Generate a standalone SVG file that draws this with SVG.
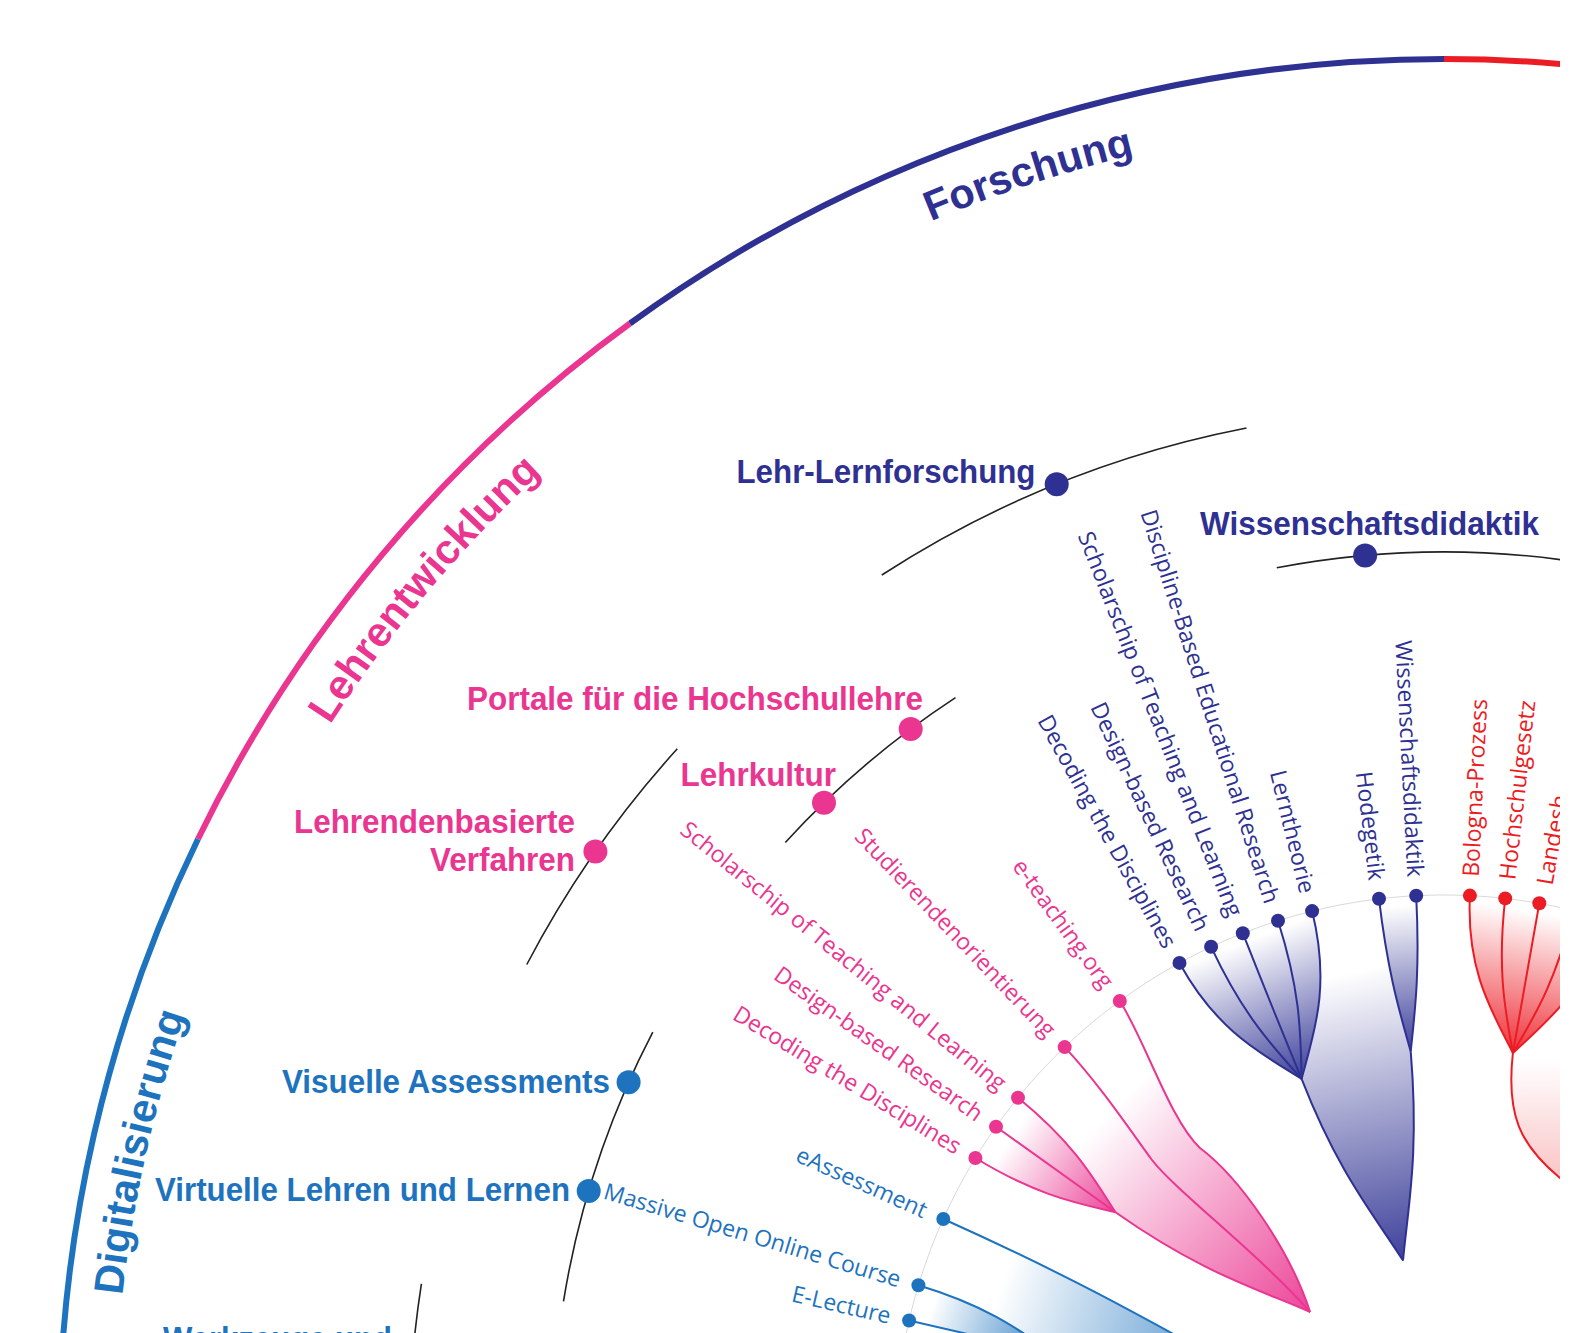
<svg xmlns="http://www.w3.org/2000/svg" width="1595" height="1333" viewBox="0 0 1595 1333">
<style>
.node{font-family:"Liberation Sans",Arial,sans-serif;font-weight:bold;font-size:34px}
.leaf{font-family:"Open Sans","Noto Sans",sans-serif;font-size:23px}
.cat{font-family:"Liberation Sans",Arial,sans-serif;font-weight:bold;font-size:41.5px}
.arc{fill:none;stroke:#222;stroke-width:1.6}
.ring{fill:none;stroke-width:6}
.ln{fill:none;stroke-width:2}
.db{fill:#2e3192}.pk{fill:#ea3690}.lb{fill:#1e73be}.rd{fill:#ec1c24}
.sdb{stroke:#2e3192}.spk{stroke:#ea3690}.slb{stroke:#1e73be}.srd{stroke:#ec1c24}
</style>
<defs>
<clipPath id="clip"><rect x="0" y="0" width="1560" height="1333"/></clipPath>
<path id="catArc" d="M118,1444 A1326,1326 0 0 1 1444,118" fill="none"/>
<path id="catArcD" d="M114,1444 A1330,1330 0 0 1 1444,114" fill="none"/>
<linearGradient id="gA" gradientUnits="userSpaceOnUse" x1="1247.8" y1="940.9" x2="1301.6" y2="1078.8"><stop offset="0" stop-color="#2e3192" stop-opacity="0"/><stop offset="1" stop-color="#2e3192" stop-opacity="0.92"/></linearGradient>
<linearGradient id="gB" gradientUnits="userSpaceOnUse" x1="1398.4" y1="905.9" x2="1410.7" y2="1051.4"><stop offset="0" stop-color="#2e3192" stop-opacity="0"/><stop offset="1" stop-color="#2e3192" stop-opacity="0.92"/></linearGradient>
<linearGradient id="gAB" gradientUnits="userSpaceOnUse" x1="1339.3" y1="975.6" x2="1403" y2="1260.5"><stop offset="0" stop-color="#2e3192" stop-opacity="0"/><stop offset="1" stop-color="#2e3192" stop-opacity="0.92"/></linearGradient>
<linearGradient id="gC" gradientUnits="userSpaceOnUse" x1="1010.9" y1="1138.5" x2="1115.5" y2="1212.3"><stop offset="0" stop-color="#ea3690" stop-opacity="0"/><stop offset="1" stop-color="#ea3690" stop-opacity="0.92"/></linearGradient>
<linearGradient id="gP2" gradientUnits="userSpaceOnUse" x1="1109.4" y1="1114" x2="1310.1" y2="1312"><stop offset="0" stop-color="#ea3690" stop-opacity="0"/><stop offset="1" stop-color="#ea3690" stop-opacity="0.92"/></linearGradient>
<linearGradient id="gL1" gradientUnits="userSpaceOnUse" x1="931.8" y1="1307.7" x2="1054.2" y2="1354"><stop offset="0" stop-color="#1e73be" stop-opacity="0"/><stop offset="1" stop-color="#1e73be" stop-opacity="0.9"/></linearGradient>
<linearGradient id="gL2" gradientUnits="userSpaceOnUse" x1="998.5" y1="1294.1" x2="1265.8" y2="1384"><stop offset="0" stop-color="#1e73be" stop-opacity="0"/><stop offset="1" stop-color="#1e73be" stop-opacity="0.9"/></linearGradient>
<linearGradient id="gR1" gradientUnits="userSpaceOnUse" x1="1537.8" y1="912.2" x2="1512.9" y2="1053"><stop offset="0" stop-color="#ec1c24" stop-opacity="0"/><stop offset="1" stop-color="#ec1c24" stop-opacity="0.9"/></linearGradient>
<linearGradient id="gR2" gradientUnits="userSpaceOnUse" x1="0" y1="1060" x2="0" y2="1220"><stop offset="0" stop-color="#ec1c24" stop-opacity="0"/><stop offset="1" stop-color="#ec1c24" stop-opacity="0.35"/></linearGradient>
</defs>
<rect x="0" y="0" width="1595" height="1333" fill="#fff"/>
<g clip-path="url(#clip)">
<g id="ring">
<path class="ring" stroke="#1e73be" d="M59,1444 A1385,1385 0 0 1 198.0,839.0"/>
<path class="ring" stroke="#ea3690" d="M198.0,839.0 A1385,1385 0 0 1 629.9,323.5"/>
<path class="ring" stroke="#2e3192" d="M629.9,323.5 A1385,1385 0 0 1 1444,59"/>
<path class="ring" stroke="#ec1c24" d="M1444,59 A1385,1385 0 0 1 1684.4,80.1"/>
</g>
<g id="categories">
<text class="cat lb"><textPath href="#catArcD" startOffset="293" text-anchor="middle">Digitalisierung</textPath></text>
<text class="cat pk"><textPath href="#catArc" startOffset="925" text-anchor="middle">Lehrentwicklung</textPath></text>
<text class="cat db"><textPath href="#catArc" startOffset="1663" text-anchor="middle">Forschung</textPath></text>
</g>
<g id="connectors">
<path fill="none" stroke="#d9d9d9" stroke-width="1" d="M895,1444 A549,549 0 0 1 1631.8,928.1"/>
<path class="arc" d="M409.6,1407.9 A1035,1035 0 0 1 421.4,1283.9"/>
<path class="arc" d="M526.8,964.5 A1035,1035 0 0 1 677.3,748.8"/>
<path class="arc" d="M881.8,575.0 A1035,1035 0 0 1 1246.5,428.0"/>
<path class="arc" d="M563.5,1301.4 A892,892 0 0 1 652.8,1032.2"/>
<path class="arc" d="M785.3,842.5 A892,892 0 0 1 955.5,697.6"/>
<path class="arc" d="M1276.8,567.8 A892,892 0 0 1 1598.9,565.6"/>
<path fill="url(#gA)" d="M1179.5,962.9 C1217.3,1031.7 1261.5,1053.6 1301.6,1078.8 C1313.7,1033.2 1331.0,987.3 1312.1,911.1 A549,549 0 0 0 1179.5,962.9 Z"/>
<path fill="url(#gB)" d="M1379.0,898.8 C1388.2,975.8 1400.1,1013.5 1410.7,1051.4 C1414.8,1012.2 1420.1,973.1 1416.2,895.7 A549,549 0 0 0 1379.0,898.8 Z"/>
<path fill="url(#gAB)" d="M1312.1,911.1 C1331.0,987.3 1313.7,1033.2 1301.6,1078.8 C1338.6,1173.8 1374.3,1215.4 1403.0,1260.5 C1407.8,1207.7 1419.4,1154.0 1410.7,1051.4 C1400.1,1013.5 1388.2,975.8 1379.0,898.8 A549,549 0 0 0 1312.1,911.1 Z"/>
<path fill="url(#gC)" d="M975.4,1158.0 C1038.2,1196.3 1077.3,1203.1 1115.5,1212.3 C1094.2,1179.1 1075.0,1144.1 1018.0,1097.7 A549,549 0 0 0 975.4,1158.0 Z"/>
<path fill="url(#gP2)" d="M1018.0,1097.7 C1075.0,1144.1 1094.2,1179.1 1115.5,1212.3 C1203.0,1274.0 1258.7,1289.1 1310.1,1312.0 C1290,1250 1240,1178 1200,1148 C1170,1120 1145,1040 1119.8,1001.0 A549,549 0 0 0 1018.0,1097.7 Z"/>
<path fill="url(#gL1)" d="M909.1,1320.5 C981.6,1337.2 1017.9,1345.6 1054.2,1354.0 C1021.4,1331.6 989.8,1306.9 918.4,1285.3 A549,549 0 0 0 909.1,1320.5 Z"/>
<path fill="url(#gL2)" d="M918.4,1285.3 C989.8,1306.9 1021.4,1331.6 1054.2,1354.0 C1157.5,1377.9 1212.1,1378.4 1265.8,1384.0 C1184.9,1342.5 1107.9,1292.9 943.3,1219.0 A549,549 0 0 0 918.4,1285.3 Z"/>
<path fill="url(#gR1)" d="M1469.9,895.6 C1466.3,971.5 1492.1,1011.7 1512.9,1053.0 C1546.7,1021.3 1584.7,992.4 1607.3,919.8 A549,549 0 0 0 1469.9,895.6 Z"/>
<path fill="url(#gR2)" d="M1512.9,1053.0 C1506,1115 1520,1145 1560,1178 S1610,1225 1625,1245 L1625,1053 Z"/>
<g class="ln sdb">
<path d="M1179.5,962.9 C1217.3,1031.7 1261.5,1053.6 1301.6,1078.8"/>
<path d="M1211.1,946.8 C1244.4,1017.9 1274.2,1047.9 1301.6,1078.8"/>
<path d="M1242.8,933.2 C1271.6,1006.2 1286.7,1042.7 1301.6,1078.8"/>
<path d="M1278.0,920.7 C1301.7,995.5 1300.5,1037.6 1301.6,1078.8"/>
<path d="M1312.1,911.1 C1331.0,987.3 1313.7,1033.2 1301.6,1078.8"/>
<path d="M1379.0,898.8 C1388.2,975.8 1400.1,1013.5 1410.7,1051.4"/>
<path d="M1416.2,895.7 C1420.1,973.1 1414.8,1012.2 1410.7,1051.4"/>
<path d="M1301.6,1078.8 C1338.6,1173.8 1374.3,1215.4 1403.0,1260.5"/>
<path d="M1410.7,1051.4 C1419.4,1154.0 1407.8,1207.7 1403.0,1260.5"/>
</g>
<g class="ln spk">
<path d="M975.4,1158.0 C1038.2,1196.3 1077.3,1203.1 1115.5,1212.3"/>
<path d="M996.0,1126.7 C1055.9,1169.2 1085.7,1190.8 1115.5,1212.3"/>
<path d="M1018.0,1097.7 C1075.0,1144.1 1094.2,1179.1 1115.5,1212.3"/>
<path d="M1115.5,1212.3 C1203.0,1274.0 1258.7,1289.1 1310.1,1312.0"/>
<path d="M1064.7,1047.1 C1100,1085 1130,1130 1152,1160 C1175,1190 1260,1255 1310.1,1312.0"/>
<path d="M1119.8,1001.0 C1145,1040 1170,1120 1200,1148 C1240,1178 1290,1250 1310.1,1312.0"/>
</g>
<g class="ln slb">
<path d="M943.3,1219.0 C1107.9,1292.9 1184.9,1342.5 1265.8,1384.0"/>
<path d="M918.4,1285.3 C989.8,1306.9 1021.4,1331.6 1054.2,1354.0"/>
<path d="M909.1,1320.5 C981.6,1337.2 1017.9,1345.6 1054.2,1354.0"/>
<path d="M1054.2,1354.0 C1157.5,1377.9 1212.1,1378.4 1265.8,1384.0"/>
</g>
<g class="ln srd">
<path d="M1469.9,895.6 C1466.3,971.5 1492.1,1011.7 1512.9,1053.0"/>
<path d="M1505.2,898.4 C1496.7,973.9 1506.0,1013.4 1512.9,1053.0"/>
<path d="M1539.3,903.3 C1526.1,978.2 1519.5,1015.6 1512.9,1053.0"/>
<path d="M1573.1,910.4 C1555.2,984.2 1533.0,1018.2 1512.9,1053.0"/>
<path d="M1607.3,919.8 C1584.7,992.4 1546.7,1021.3 1512.9,1053.0"/>
<path d="M1512.9,1053.0 C1506,1115 1520,1145 1560,1178 S1610,1225 1625,1245"/>
</g>
</g>
<g id="node-lehr-lernforschung"><circle class="db" cx="1056.7" cy="484.2" r="12"/><text class="node db" x="736.5" y="483" textLength="299" lengthAdjust="spacingAndGlyphs">Lehr-Lernforschung</text></g>
<g id="node-wissenschaftsdidaktik"><circle class="db" cx="1365.1" cy="555.5" r="12"/><text class="node db" x="1200" y="535" textLength="339" lengthAdjust="spacingAndGlyphs">Wissenschaftsdidaktik</text></g>
<g id="node-portale"><circle class="pk" cx="910.7" cy="729.0" r="12"/><text class="node pk" x="467" y="710" textLength="456" lengthAdjust="spacingAndGlyphs">Portale für die Hochschullehre</text></g>
<g id="node-lehrkultur"><circle class="pk" cx="824.0" cy="802.7" r="12"/><text class="node pk" x="680.5" y="786" textLength="155.5" lengthAdjust="spacingAndGlyphs">Lehrkultur</text></g>
<g id="node-lehrendenbasierte"><circle class="pk" cx="595.4" cy="851.6" r="12"/><text class="node pk" x="294" y="833" textLength="281" lengthAdjust="spacingAndGlyphs">Lehrendenbasierte</text><text class="node pk" x="430" y="871" textLength="145" lengthAdjust="spacingAndGlyphs">Verfahren</text></g>
<g id="node-visuelle"><circle class="lb" cx="628.6" cy="1082.3" r="12"/><text class="node lb" x="282" y="1093" textLength="328" lengthAdjust="spacingAndGlyphs">Visuelle Assessments</text></g>
<g id="node-virtuelle"><circle class="lb" cx="588.7" cy="1190.9" r="12"/><text class="node lb" x="155" y="1201" textLength="415" lengthAdjust="spacingAndGlyphs">Virtuelle Lehren und Lernen</text></g>
<g id="node-werkzeuge"><text class="node lb" x="163" y="1350" textLength="229" lengthAdjust="spacingAndGlyphs">Werkzeuge und</text></g>
<g id="leaf-f-decoding"><circle class="db" cx="1179.5" cy="962.9" r="7"/><text class="leaf db" transform="translate(1170.3,946.3) rotate(61.2)" y="8" text-anchor="end">Decoding the Disciplines</text></g>
<g id="leaf-f-design"><circle class="db" cx="1211.1" cy="946.8" r="7"/><text class="leaf db" transform="translate(1203.1,929.6) rotate(64.9)" y="8" text-anchor="end">Design-based Research</text></g>
<g id="leaf-f-sotl"><circle class="db" cx="1242.8" cy="933.2" r="7"/><text class="leaf db" transform="translate(1235.8,915.5) rotate(68.5)" y="8" text-anchor="end">Scholarschip of Teaching and Learning</text></g>
<g id="leaf-f-dber"><circle class="db" cx="1278.0" cy="920.7" r="7"/><text class="leaf db" transform="translate(1272.2,902.6) rotate(72.4)" y="8" text-anchor="end">Discipline-Based Educational Research</text></g>
<g id="leaf-f-lerntheorie"><circle class="db" cx="1312.1" cy="911.1" r="7"/><text class="leaf db" transform="translate(1307.6,892.6) rotate(76.1)" y="8" text-anchor="end">Lerntheorie</text></g>
<g id="leaf-f-hodegetik"><circle class="db" cx="1379.0" cy="898.8" r="7"/><text class="leaf db" transform="translate(1376.7,880.0) rotate(83.2)" y="8" text-anchor="end">Hodegetik</text></g>
<g id="leaf-f-wissenschaftsdidaktik"><circle class="db" cx="1416.2" cy="895.7" r="7"/><text class="leaf db" transform="translate(1415.3,876.7) rotate(87.1)" y="8" text-anchor="end">Wissenschaftsdidaktik</text></g>
<g id="leaf-r-bologna"><circle class="rd" cx="1469.9" cy="895.6" r="7"/><text class="leaf rd" transform="translate(1470.8,876.6) rotate(-87.3)" y="8">Bologna-Prozess</text></g>
<g id="leaf-r-hochschulgesetz"><circle class="rd" cx="1505.2" cy="898.4" r="7"/><text class="leaf rd" transform="translate(1507.3,879.5) rotate(-83.6)" y="8">Hochschulgesetz</text></g>
<g id="leaf-r-landesh"><circle class="rd" cx="1539.3" cy="903.3" r="7"/><text class="leaf rd" transform="translate(1544.6,884.6) rotate(-80)" y="8">Landesh</text></g>
<g id="leaf-l-eteaching"><circle class="pk" cx="1119.8" cy="1001.0" r="7"/><text class="leaf pk" transform="translate(1108.5,985.6) rotate(53.8)" y="8" text-anchor="end">e-teaching.org</text></g>
<g id="leaf-l-studierenden"><circle class="pk" cx="1064.7" cy="1047.1" r="7"/><text class="leaf pk" transform="translate(1051.6,1033.3) rotate(46.3)" y="8" text-anchor="end">Studierendenorientierung</text></g>
<g id="leaf-l-sotl"><circle class="pk" cx="1018.0" cy="1097.7" r="7"/><text class="leaf pk" transform="translate(1003.2,1085.8) rotate(39.1)" y="8" text-anchor="end">Scholarschip of Teaching and Learning</text></g>
<g id="leaf-l-design"><circle class="pk" cx="996.0" cy="1126.7" r="7"/><text class="leaf pk" transform="translate(980.5,1115.8) rotate(35.3)" y="8" text-anchor="end">Design-based Research</text></g>
<g id="leaf-l-decoding"><circle class="pk" cx="975.4" cy="1158.0" r="7"/><text class="leaf pk" transform="translate(959.2,1148.1) rotate(31.4)" y="8" text-anchor="end">Decoding the Disciplines</text></g>
<g id="leaf-d-eassessment"><circle class="lb" cx="943.3" cy="1219.0" r="7"/><text class="leaf lb" transform="translate(925.9,1211.2) rotate(24.2)" y="8" text-anchor="end">eAssessment</text></g>
<g id="leaf-d-mooc"><circle class="lb" cx="918.4" cy="1285.3" r="7"/><text class="leaf lb" transform="translate(900.3,1279.8) rotate(16.8)" y="8" text-anchor="end">Massive Open Online Course</text></g>
<g id="leaf-d-electure"><circle class="lb" cx="909.1" cy="1320.5" r="7"/><text class="leaf lb" transform="translate(890.5,1316.2) rotate(13.0)" y="8" text-anchor="end">E-Lecture</text></g>
</g>
</svg>
